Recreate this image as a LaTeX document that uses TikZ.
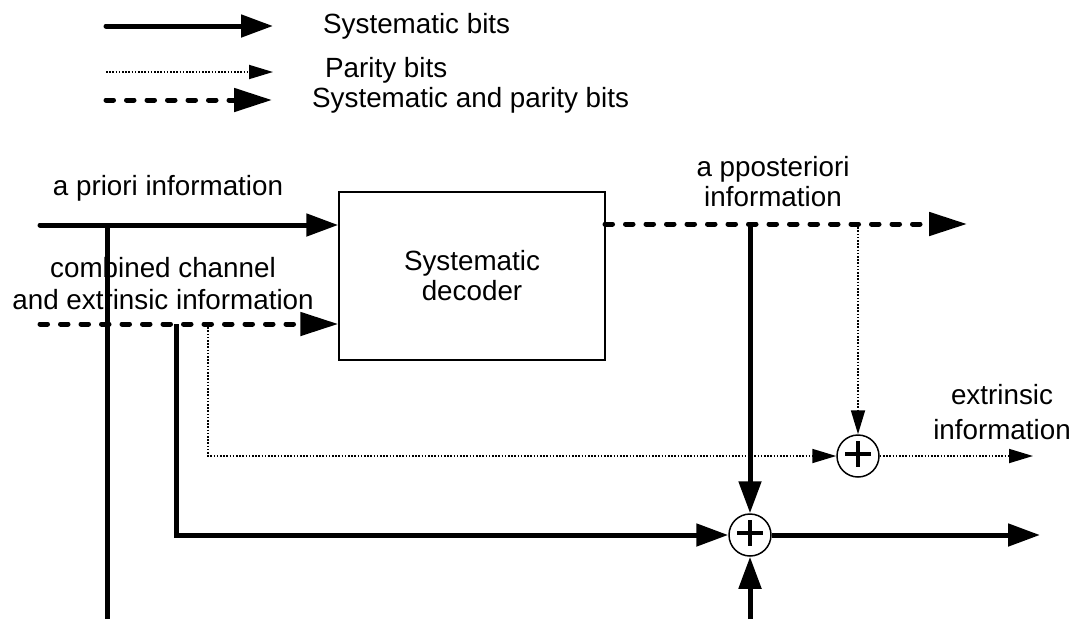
\documentclass[tikz,border=0pt]{standalone}
\usepackage{fontspec}
\setmainfont{Liberation Sans}
\usetikzlibrary{arrows.meta}

\tikzset{
  txt/.style={font=\fontsize{27.8pt}{32pt}\selectfont, inner sep=0pt},
  sysline/.style={line width=5pt, line cap=round, -{Triangle[length=32pt,width=22pt]}},
  parline/.style={line width=1.8pt, dash pattern=on 1.6pt off 1.6pt, -{Triangle[length=24pt,width=14pt]}},
  bothline/.style={line width=5pt, line cap=round, dash pattern=on 7.5pt off 13pt, -{Triangle[length=38pt,width=23pt]}},
  adder/.style={circle, draw, line width=1.5pt, minimum size=42pt, inner sep=0pt,
    path picture={
      \draw[line width=4.5pt] ([xshift=-13pt,yshift=2pt]path picture bounding box.center) -- ([xshift=13pt,yshift=2pt]path picture bounding box.center);
      \draw[line width=4.5pt] ([yshift=15pt]path picture bounding box.center) -- ([yshift=-11pt]path picture bounding box.center);
    }}
}

\begin{document}
\begin{tikzpicture}[x=1pt,y=-1pt]
    \useasboundingbox (0,0) rectangle (1076,619);

    % Legend
    \coordinate (L1a) at (106,26);  \coordinate (L1b) at (273,26);
    \coordinate (L2a) at (106,72);  \coordinate (L2b) at (273,72);
    \coordinate (L3a) at (106,100); \coordinate (L3b) at (272,100);
    \draw[sysline] (L1a) -- (L1b);
    \draw[parline] (L2a) -- (L2b);
    \draw[bothline] (L3a) -- (L3b);
    \node[txt, anchor=west] (leg1) at (323,26) {Systematic bits};
    \node[txt, anchor=west] (leg2) at (325,70) {Parity bits};
    \node[txt, anchor=west] (leg3) at (312,100) {Systematic and parity bits};

    % Decoder box and adders
    \node[txt, draw, line width=1.5pt, minimum width=266pt, minimum height=168pt,
          align=center, font=\fontsize{27.8pt}{30pt}\selectfont] (dec) at (472,276) {Systematic\\decoder};
    \node[adder] (sum1) at (750,535) {};
    \node[adder] (sum2) at (858,456) {};

    % Labels
    \node[txt, align=center] (aprlab) at (168,188) {a priori information};
    \node[txt, align=center] (cmblab) at (163,284) {combined channel\\and extrinsic information};
    \node[txt, align=center, font=\fontsize{27.8pt}{30pt}\selectfont] (apostlab) at (773,182) {a pposteriori\\information};
    \node[txt, align=center, font=\fontsize{27.8pt}{35pt}\selectfont] (extlab) at (1002,412) {extrinsic\\information};

    % Inputs of the decoder
    \coordinate (apr) at (40,225);
    \coordinate (cmb) at (40,324);
    \draw[sysline] (apr) -- (apr -| dec.west);
    \draw[bothline] (cmb) -- (cmb -| dec.west);

    % Branches from the inputs
    \coordinate (aprtap) at (107,225);
    \coordinate (aprbot) at (107,619);
    \draw[line width=5pt] (aprtap) -- (aprbot);
    \coordinate (systap) at (176,324);
    \draw[sysline, line cap=butt] (systap) |- (sum1);
    \coordinate (partap) at (208,324);
    \draw[parline] (partap) |- (sum2);

    % Decoder output
    \coordinate (decout) at (605,224);
    \coordinate (apost) at (967,224);
    \draw[bothline] (decout) -- (apost);
    \coordinate (tap1) at (750,224);
    \coordinate (tap2) at (858,224);
    \draw[sysline, line cap=butt] (tap1) -- (sum1);
    \draw[parline] (tap2) -- (sum2);

    % Adder outputs and lower input
    \coordinate (out1) at (1040,535);
    \coordinate (out2) at (1033,456);
    \coordinate (bot1) at (750,619);
    \draw[sysline, line cap=butt] (sum1) -- (out1);
    \draw[parline] (sum2) -- (out2);
    \draw[sysline, line cap=butt] (bot1) -- (sum1);
\end{tikzpicture}
\end{document}
